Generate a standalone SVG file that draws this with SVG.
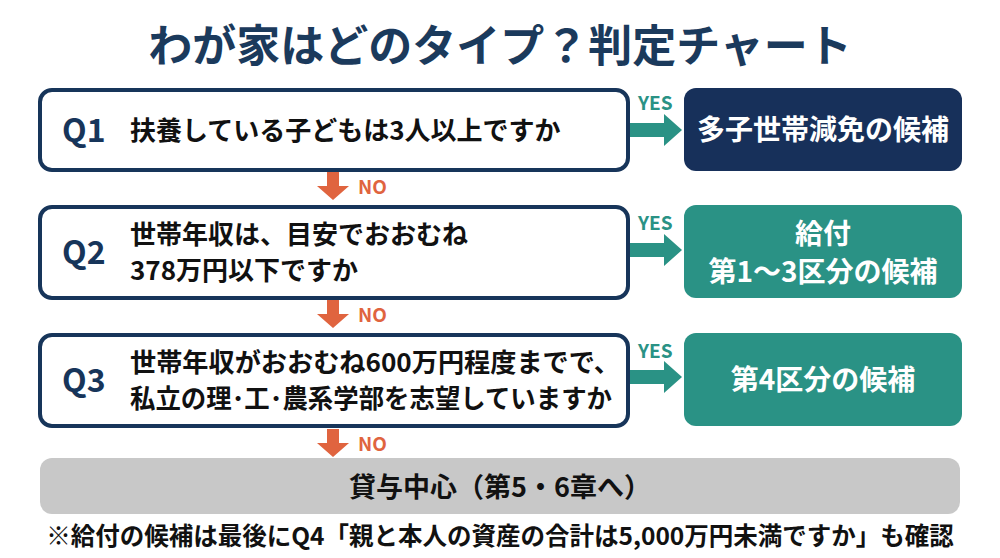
<svg xmlns="http://www.w3.org/2000/svg" width="1000" height="558" viewBox="0 0 1000 558">
<style>
text{font-family:"Noto Sans CJK JP","Noto Sans",sans-serif;font-weight:bold}
.q{fill:#fff;stroke:#17355a;stroke-width:4}
.ql{fill:#17355a;font-size:32px}
.qt{fill:#111;font-size:26px}
.rt{fill:#fff;font-size:28px;text-anchor:middle}
.yes{fill:#2a9285;font-size:19px}
.no{fill:#e0643f;font-size:19px}
</style>
<defs>
<path id="ya" d="M0,-7 H34 V-16 L52,0 L34,16 V7 H0 Z" fill="#2a9285"/>
<path id="na" d="M-6,0 H6 V14 H16 L0,28 L-16,14 H-6 Z" fill="#e0643f"/>
</defs>
<rect width="1000" height="558" fill="#fff"/>
<text x="500" y="62" text-anchor="middle" font-size="44" fill="#1b3a5c">わが家はどのタイプ？判定チャート</text>
<g id="connectors">
<use href="#ya" x="630" y="130"/><text class="yes" x="638" y="110">YES</text>
<use href="#ya" x="630" y="250"/><text class="yes" x="638" y="230">YES</text>
<use href="#ya" x="630" y="377"/><text class="yes" x="638" y="358">YES</text>
<use href="#na" x="333" y="172"/><text class="no" x="358" y="194">NO</text>
<use href="#na" x="333" y="300"/><text class="no" x="358" y="322">NO</text>
<use href="#na" x="333" y="429"/><text class="no" x="358" y="451">NO</text>
</g>
<g id="q1"><rect class="q" x="40" y="90" width="588" height="80" rx="12"/><text class="ql" x="62" y="142">Q1</text><text class="qt" x="130" y="140">扶養している子どもは3人以上ですか</text></g>
<g id="q2"><rect class="q" x="40" y="207" width="588" height="91" rx="12"/><text class="ql" x="62" y="264">Q2</text><text class="qt" x="130" y="244">世帯年収は、目安でおおむね</text><text class="qt" x="130" y="280">378万円以下ですか</text></g>
<g id="q3"><rect class="q" x="40" y="335" width="588" height="91" rx="12"/><text class="ql" x="62" y="392">Q3</text><text class="qt" x="130" y="372" textLength="490" lengthAdjust="spacingAndGlyphs">世帯年収がおおむね600万円程度までで、</text><text class="qt" x="130" y="408" textLength="482" lengthAdjust="spacingAndGlyphs">私立の理･工･農系学部を志望していますか</text></g>
<g id="r1"><rect x="684" y="88" width="278" height="83" rx="12" fill="#17305a"/><text class="rt" x="823" y="140">多子世帯減免の候補</text></g>
<g id="r2"><rect x="684" y="205" width="278" height="93" rx="12" fill="#2a9285"/><text class="rt" x="823" y="244">給付</text><text class="rt" x="823" y="282">第1～3区分の候補</text></g>
<g id="r3"><rect x="684" y="333" width="278" height="93" rx="12" fill="#2a9285"/><text class="rt" x="823" y="390">第4区分の候補</text></g>
<g id="end"><rect x="40" y="458" width="920" height="56" rx="12" fill="#c8c8c8"/><text x="500" y="497" text-anchor="middle" font-size="27" fill="#111">貸与中心（第5・6章へ）</text></g>
<text x="500" y="545" text-anchor="middle" font-size="24.5" fill="#111">※給付の候補は最後にQ4「親と本人の資産の合計は5,000万円未満ですか」も確認</text>
</svg>
